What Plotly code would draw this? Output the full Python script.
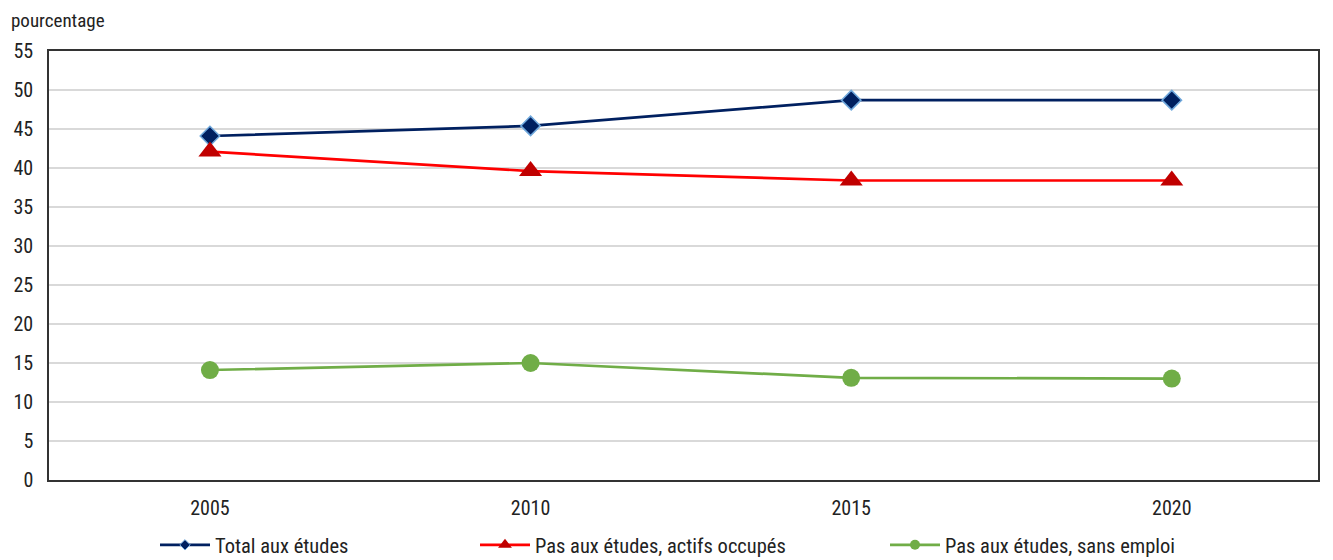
import plotly.graph_objects as go

years = [2005, 2010, 2015, 2020]
total_etudes = [44.1, 45.4, 48.7, 48.7]
actifs_occupes = [42.1, 39.6, 38.4, 38.4]
sans_emploi = [14.1, 15.0, 13.1, 13.0]
y_ticks = list(range(0, 56, 5))
names = ["Total aux études", "Pas aux études, actifs occupés", "Pas aux études, sans emploi"]

FONT = "Roboto Condensed, Liberation Sans Narrow, Arial Narrow, sans-serif"
# page has an 8px body margin; figure sized to fit the window
W, H = 1325, 552
L, R, T, B = 41, 15, 43, 80
PW, PH = W - L - R, H - T - B

styles = [
    dict(line=dict(color="#002060", width=2.7),
         marker=dict(symbol="diamond", size=15, color="#002060", line=dict(color="#6FA8DC", width=1.5)),
         lmarker=dict(symbol="diamond", size=8, color="#002060", line=dict(color="#6FA8DC", width=1))),
    dict(line=dict(color="#FF0000", width=2.7),
         marker=dict(symbol="triangle-up", size=20, color="#C00000"),
         lmarker=dict(symbol="triangle-up", size=12, color="#C00000")),
    dict(line=dict(color="#70AD47", width=2.7),
         marker=dict(symbol="circle", size=18, color="#70AD47"),
         lmarker=dict(symbol="circle", size=10, color="#70AD47")),
]
series = [total_etudes, actifs_occupes, sans_emploi]
legend_ids = ["legend", "legend2", "legend3"]
legend_px = [147, 467, 877]

fig = go.Figure()
for name, vals, st in zip(names, series, styles):
    fig.add_trace(go.Scatter(x=years, y=vals, name=name, mode="lines+markers",
                             line=st["line"], marker=st["marker"], showlegend=False))
for name, st, lid in zip(names, styles, legend_ids):
    fig.add_trace(go.Scatter(x=[None], y=[None], name=name, mode="lines+markers",
                             line=st["line"], marker=st["lmarker"], legend=lid, showlegend=True))

legend_y = -(537 - (T + PH)) / PH
layout_legends = {}
for lid, px in zip(legend_ids, legend_px):
    layout_legends[lid] = dict(orientation="h", yanchor="middle", y=legend_y,
                               xanchor="left", x=(px - L) / PW,
                               font=dict(size=20.5, family=FONT, color="#222222"),
                               itemwidth=50, bgcolor="rgba(0,0,0,0)", borderwidth=0)

fig.update_layout(
    width=W, height=H,
    margin=dict(l=L, r=R, t=T, b=B, autoexpand=False),
    paper_bgcolor="white", plot_bgcolor="white",
    font=dict(family=FONT, size=19, color="#222222"),
    xaxis=dict(range=[2002.49, 2022.28], tickvals=years, ticktext=[str(y) for y in years],
               showgrid=False, zeroline=False, showline=True, linecolor="#333333",
               linewidth=1.5, mirror=True, ticks="", tickfont=dict(size=20),
               ticklabelstandoff=9, automargin=False),
    yaxis=dict(range=[0, 55], tickvals=y_ticks, showgrid=True, gridcolor="#D9D9D9",
               gridwidth=1.5, zeroline=False, showline=True, linecolor="#333333",
               linewidth=1.5, mirror=True, ticks="", tickfont=dict(size=20),
               ticklabelstandoff=10, automargin=False),
    annotations=[dict(text="pourcentage", x=(2 - L) / PW, xref="paper", xanchor="left",
                      y=1 + T / PH, yref="paper", yanchor="top", borderpad=0,
                      showarrow=False, font=dict(size=19))],
    **layout_legends,
)

fig.write_html("out.html")
